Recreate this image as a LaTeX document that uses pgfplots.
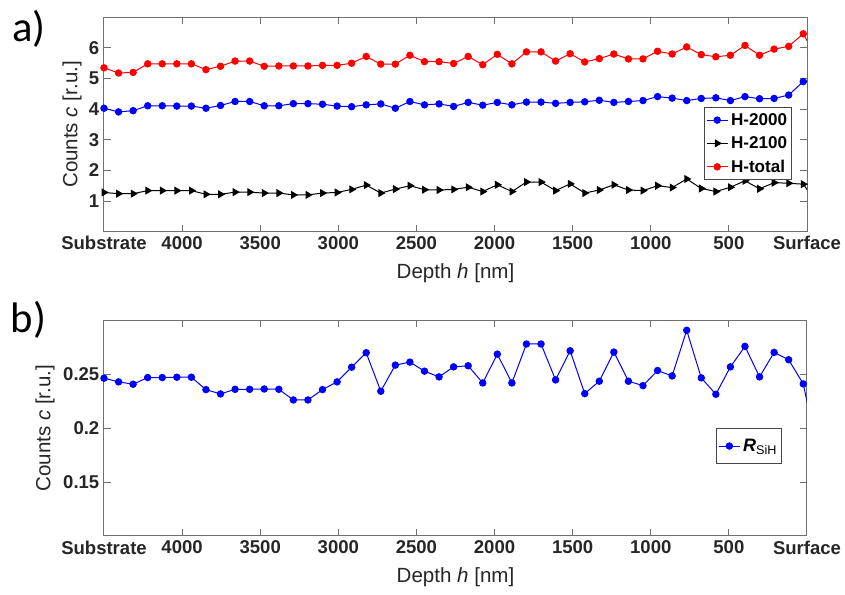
\documentclass[border=0pt]{standalone}
\usepackage{fontspec}
\setmainfont{Liberation Sans}
\newfontfamily\panelfont{Carlito}
\usepackage{pgfplots}
\usepackage{pgfplotstable}
\pgfplotsset{compat=1.18}

\definecolor{axgray}{RGB}{112,112,112}
\definecolor{txtgray}{RGB}{38,38,38}
\definecolor{lgdgray}{RGB}{70,70,70}
\definecolor{hblue}{RGB}{0,0,255}
\definecolor{hred}{RGB}{255,0,0}

% depth profile: h [nm], H-2000, H-2100, H-total, R_SiH
\pgfplotstableread{
h       H2000 H2100 Htotal RSiH
4500.00 4.03  1.28  5.35   0.2463
4406.75 3.91  1.24  5.18   0.2429
4313.50 3.95  1.24  5.20   0.2407
4220.25 4.11  1.34  5.48   0.2469
4127.00 4.11  1.34  5.48   0.2469
4033.75 4.10  1.34  5.48   0.2472
3940.50 4.10  1.34  5.48   0.2472
3847.25 4.03  1.22  5.29   0.2357
3754.00 4.12  1.22  5.40   0.2317
3660.75 4.25  1.29  5.57   0.2360
3567.50 4.25  1.29  5.57   0.2360
3474.25 4.11  1.26  5.40   0.2363
3381.00 4.11  1.26  5.41   0.2360
3287.75 4.18  1.20  5.41   0.2261
3194.50 4.18  1.20  5.41   0.2261
3101.25 4.16  1.26  5.43   0.2357
3008.00 4.10  1.28  5.43   0.2429
2914.75 4.08  1.38  5.50   0.2565
2821.50 4.14  1.52  5.72   0.2699
2728.25 4.17  1.26  5.47   0.2342
2635.00 4.03  1.39  5.47   0.2584
2541.75 4.25  1.50  5.76   0.2612
2448.50 4.14  1.37  5.55   0.2528
2355.25 4.17  1.36  5.55   0.2475
2262.00 4.09  1.38  5.49   0.2568
2168.75 4.22  1.45  5.72   0.2578
2075.50 4.13  1.31  5.45   0.2419
1982.25 4.22  1.53  5.79   0.2686
1889.00 4.14  1.31  5.48   0.2419
1795.75 4.23  1.62  5.87   0.2780
1702.50 4.23  1.62  5.87   0.2780
1609.25 4.19  1.34  5.57   0.2447
1516.00 4.22  1.56  5.81   0.2717
1422.75 4.24  1.26  5.54   0.2320
1329.50 4.29  1.36  5.65   0.2435
1236.25 4.22  1.53  5.80   0.2705
1143.00 4.25  1.36  5.64   0.2435
1049.75 4.28  1.34  5.64   0.2394
956.50  4.41  1.50  5.89   0.2534
863.25  4.36  1.44  5.80   0.2484
770.00  4.28  1.72  6.03   0.2907
676.75  4.35  1.41  5.78   0.2466
583.50  4.37  1.31  5.71   0.2314
490.25  4.28  1.45  5.76   0.2568
397.00  4.41  1.66  6.08   0.2758
303.75  4.34  1.40  5.76   0.2475
210.50  4.35  1.60  5.96   0.2702
117.25  4.46  1.58  6.05   0.2634
24.00   4.90  1.55  6.46   0.2410
-69.25  5.00  0.90  5.60   0.1780
}\depthdata

\pgfplotsset{
  profile/.style={
    scale only axis,
    width=527.25pt,
    xmin=0, xmax=4500, x dir=reverse,
    xtick={0,500,...,4500},
    xticklabels={Surface,\raisebox{-1.6pt}{500},\raisebox{1.6pt}{1000},\raisebox{-0.4pt}{1500},\raisebox{0.8pt}{2000},\raisebox{1.2pt}{2500},\raisebox{-2pt}{3000},\raisebox{-1.2pt}{3500},\raisebox{-3.2pt}{4000},Substrate},
    tick align=inside,
    major tick length=5pt,
    tick style={axgray, line width=0.75pt},
    axis line style={axgray, line width=0.75pt},
    ticklabel style={font=\fontsize{13.9pt}{16pt}\selectfont\bfseries, text=txtgray},
    /pgf/number format/assume math mode=true,
    label style={font=\fontsize{15.4pt}{18pt}\selectfont, text=txtgray},
    xlabel={Depth \textit{h} [nm]},
    ylabel={Counts \textit{c} [r.u.]},
    xlabel style={at={(axis description cs:0.5,-0.193)}, anchor=center},
    legend cell align=left,
    legend image code/.code={
      \draw[mark repeat=2, mark phase=2, #1]
        plot coordinates {(0pt,0pt) (8pt,0pt) (16pt,0pt)};
    },
    legend style={
      anchor=north east,
      draw=lgdgray, line width=0.75pt,
      font=\fontsize{12.8pt}{15pt}\selectfont\bfseries,
    },
  },
  series/.style={line width=0.75pt, mark options={solid}},
}

\begin{document}
\begin{tikzpicture}
\useasboundingbox (0,0) rectangle (633.75pt,446.25pt);

% a) hydrogen counts
\begin{axis}[profile,
  at={(78pt,272.5pt)}, anchor=south west,
  height=160.8pt,
  ymin=0, ymax=7, ytick={1,2,3,4,5,6},
  ylabel style={at={(axis description cs:-0.0455,0.5)}, anchor=center},
  legend style={at={(0.978,0.580)}, inner xsep=1pt, inner ysep=2pt, row sep=3pt},
]
\addplot[series, hblue, mark=*, mark size=2.4pt] table[x=h, y=H2000] {\depthdata};
\addlegendentry{H-2000}
\addplot[series, black, mark=triangle*, mark size=2.8pt, mark options={rotate=-90}] table[x=h, y=H2100] {\depthdata};
\addlegendentry{H-2100}
\addplot[series, hred, mark=*, mark size=2.4pt] table[x=h, y=Htotal] {\depthdata};
\addlegendentry{H-total}
\end{axis}

% b) ratio R_SiH
\begin{axis}[profile,
  at={(78pt,44.25pt)}, anchor=south west,
  height=161.8pt,
  ymin=0.1, ymax=0.3, ytick={0.15,0.2,0.25}, yticklabels={0.15,0.2,0.25},
  ylabel style={at={(axis description cs:-0.0839,0.5)}, anchor=center},
  legend style={at={(0.964,0.499)}, inner xsep=1pt, inner ysep=5.5pt,
    font=\fontsize{13.5pt}{16pt}\selectfont\bfseries},
]
\addplot[series, hblue, mark=*, mark size=2.4pt] table[x=h, y=RSiH] {\depthdata};
\addlegendentry{\textit{R}\textsubscript{\mdseries SiH}}
\end{axis}

\node[anchor=base west, inner sep=0pt, font=\panelfont\fontsize{32pt}{38pt}\selectfont] at (9pt,415pt) {a)};
\node[anchor=base west, inner sep=0pt, font=\panelfont\fontsize{32pt}{38pt}\selectfont] at (8pt,196.5pt) {b)};
\end{tikzpicture}
\end{document}
